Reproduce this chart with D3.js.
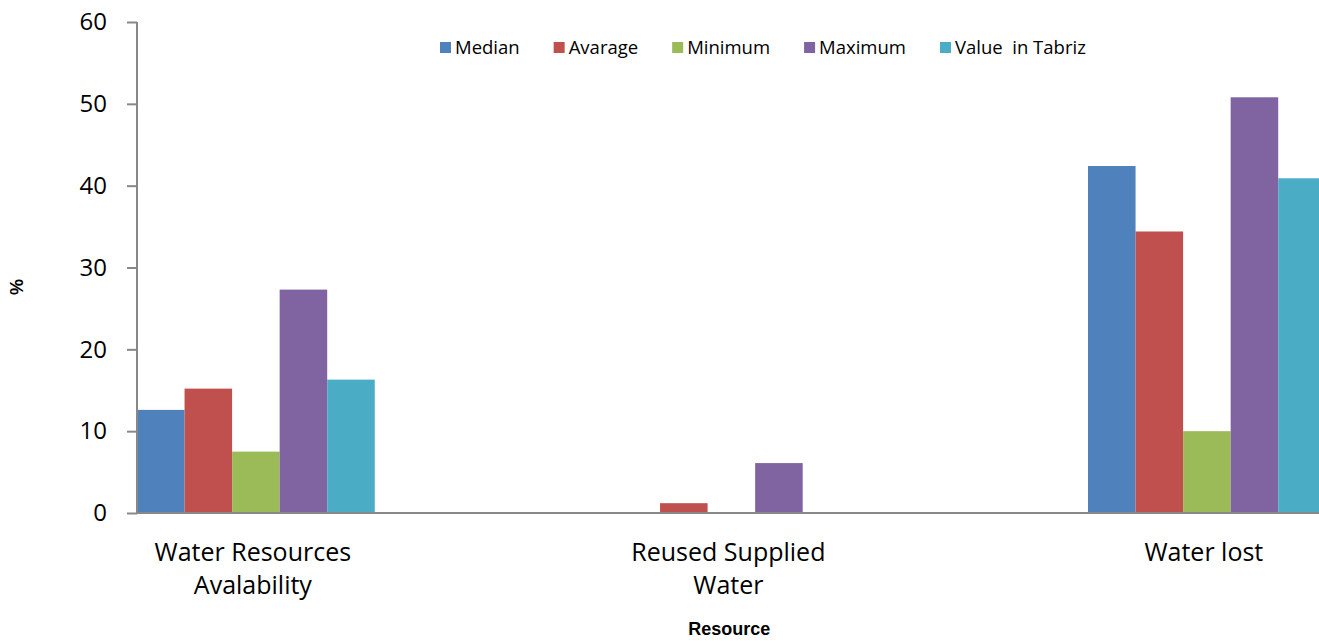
<!DOCTYPE html>
<html>
<head>
<meta charset="utf-8">
<script src="https://cdn.jsdelivr.net/npm/d3@7"></script>
<style>
  html, body { margin: 0; padding: 0; background: #fff; overflow: hidden; }
  svg { display: block; }
</style>
</head>
<body>
<svg id="chart" width="1319" height="641"></svg>
<script>
// Categories (each label split into its display lines)
const categories = ["Water Resources Avalability", "Reused Supplied Water", "Water lost"];
const categoryLines = [["Water Resources", "Avalability"], ["Reused Supplied", "Water"], ["Water lost"]];

// Series names as shown in the legend
const seriesNames = ["Median", "Avarage", "Minimum", "Maximum", "Value  in Tabriz"];

// Values (%) per series, in category order
const median  = [12.6, 0, 42.4];
const average = [15.2, 1.2, 34.4];
const minimum = [7.5, 0, 10.0];
const maximum = [27.3, 6.1, 50.8];
const tabriz  = [16.3, 0, 40.9];

const yTicks = [0, 10, 20, 30, 40, 50, 60];

const seriesValues = [median, average, minimum, maximum, tabriz];
const colors = ["#4F81BD", "#C0504D", "#9BBB59", "#8064A2", "#4BACC6"];

const svg = d3.select("#chart");

const axisLeft = 137, plotTop = 22, plotBottom = 513;
const step = 475.5;

const y = d3.scaleLinear().domain([0, 60]).range([plotBottom, plotTop]);

const x0 = d3.scaleBand()
  .domain(categories)
  .range([axisLeft, axisLeft + 2.5 * step])
  .paddingInner(0.5)
  .paddingOuter(0);

const x1 = d3.scaleBand()
  .domain(seriesNames)
  .range([0, x0.bandwidth()])
  .padding(0);

// Bars
const groups = svg.append("g")
  .selectAll("g")
  .data(categories)
  .join("g")
  .attr("transform", d => `translate(${x0(d)},0)`);

groups.selectAll("rect")
  .data((c, ci) => seriesNames.map((s, si) => ({ s, si, v: seriesValues[si][ci] })))
  .join("rect")
  .filter(d => d.v > 0)
  .attr("x", d => x1(d.s))
  .attr("width", x1.bandwidth())
  .attr("y", d => y(d.v))
  .attr("height", d => y(0) - y(d.v))
  .attr("fill", d => colors[d.si]);

// Y axis
const yAxis = svg.append("g")
  .attr("transform", `translate(${axisLeft},0)`)
  .call(d3.axisLeft(y).tickValues(yTicks).tickSize(10).tickPadding(20).tickFormat(d3.format("d")));
yAxis.select(".domain").attr("stroke", "#888").attr("stroke-width", 2).attr("d", `M0,${plotTop}V${plotBottom}`);
yAxis.selectAll(".tick line").attr("stroke", "#888").attr("stroke-width", 2);
yAxis.selectAll(".tick text")
  .attr("font-family", "'Open Sans', sans-serif")
  .attr("font-size", 24)
  .attr("fill", "#000");

// X axis line
svg.append("line")
  .attr("x1", axisLeft).attr("x2", 1319)
  .attr("y1", y(0)).attr("y2", y(0))
  .attr("stroke", "#888").attr("stroke-width", 2);

// Category labels
const catLabels = svg.append("g")
  .selectAll("text")
  .data(categories)
  .join("text")
  .attr("x", d => x0(d) + x0.bandwidth() / 2 - 3)
  .attr("y", 561)
  .attr("text-anchor", "middle")
  .attr("font-family", "'Open Sans', sans-serif")
  .attr("font-size", 25)
  .attr("fill", "#000");
catLabels.selectAll("tspan")
  .data((d, i) => categoryLines[i])
  .join("tspan")
  .attr("x", function () { return d3.select(this.parentNode).attr("x"); })
  .attr("dy", (d, i) => i === 0 ? 0 : 33)
  .text(d => d);

// Axis titles
svg.append("text")
  .attr("x", (x0(categories[1]) + x0.bandwidth() / 2) - 2)
  .attr("y", 635)
  .attr("text-anchor", "middle")
  .attr("font-family", "'Liberation Sans', Arial, sans-serif")
  .attr("font-weight", "bold")
  .attr("font-size", 18)
  .text("Resource");

svg.append("text")
  .attr("transform", "translate(23,287) rotate(-90)")
  .attr("text-anchor", "middle")
  .attr("font-family", "'Liberation Sans', Arial, sans-serif")
  .attr("font-weight", "bold")
  .attr("font-size", 18)
  .text("%");

// Legend
const legend = svg.append("g").attr("transform", "translate(440,0)");
let lx = 0;
seriesNames.forEach((name, i) => {
  const item = legend.append("g").attr("transform", `translate(${lx},0)`);
  item.append("rect")
    .attr("x", 0).attr("y", 42)
    .attr("width", 11).attr("height", 11)
    .attr("fill", colors[i]);
  const t = item.append("text")
    .attr("x", 15).attr("y", 54)
    .attr("font-family", "'Open Sans', sans-serif")
    .attr("font-size", 18.5)
    .attr("fill", "#000")
    .attr("xml:space", "preserve")
    .style("white-space", "pre")
    .text(name);
  lx += 15 + t.node().getComputedTextLength() + 34;
});
</script>
</body>
</html>
